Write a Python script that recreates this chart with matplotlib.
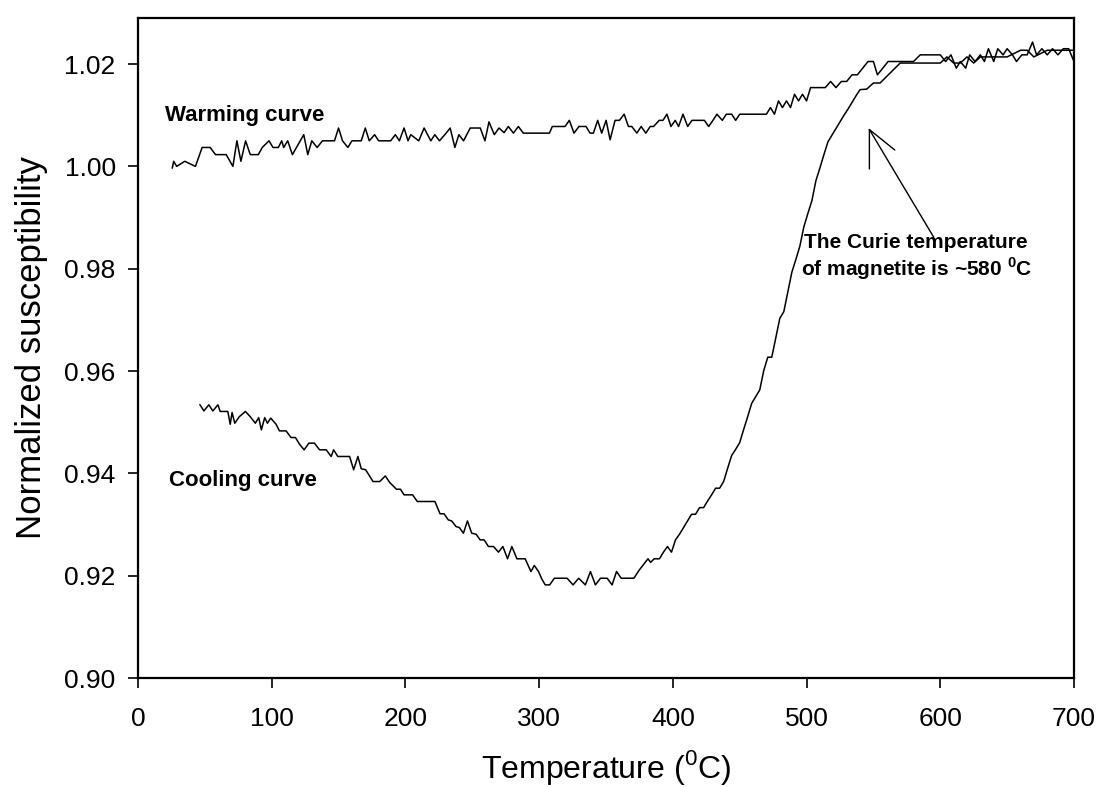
import matplotlib
matplotlib.use("Agg")
import matplotlib.pyplot as plt

plt.rcParams['font.family'] = ['Liberation Sans', 'DejaVu Sans']
plt.rcParams['mathtext.fontset'] = 'custom'
plt.rcParams['mathtext.rm'] = 'Liberation Sans'
plt.rcParams['mathtext.bf'] = 'Liberation Sans:bold'

# warming run (deg C, normalized susceptibility)
warm_t = [25.7, 26.7, 29, 35, 43, 48, 54, 58, 66, 71, 74, 77, 80.5, 84, 90, 93, 98,
          101, 105, 107.5, 109, 112, 115.5, 124, 127, 130, 134, 138, 147, 150, 153,
          157, 160, 167, 170, 173, 177, 180, 189, 192.5, 195.5, 199, 202, 204, 210,
          214, 219, 222, 225.5, 229.5, 233.5, 237, 240, 243.5, 248.5, 256, 259.5,
          262.5, 266.5, 270, 273.8, 277, 280.8, 284.5, 288.2, 307.7, 309.9, 319.4,
          322.6, 326.1, 329.8, 335.1, 338.1, 340.6, 343.8, 346.8, 350.1, 353.1,
          356.8, 360.1, 363.6, 366.8, 369.3, 373.1, 376.3, 379.8, 383.1, 385.6,
          389.8, 392.6, 395.6, 398.6, 401.8, 404.3, 407.6, 411.1, 414.3, 423.6,
          426.8, 430, 433, 437, 440, 444, 447, 450, 455, 460, 465, 470, 473, 476,
          479, 482, 485, 488, 491, 494, 497, 500, 503, 506, 510, 514, 518, 522, 526,
          530, 534, 538, 542, 546, 550, 553, 557, 561, 565, 570, 575, 580, 585, 590,
          595, 600, 604, 608, 612, 615, 619, 622, 626, 630, 633, 636, 640, 643, 647,
          650, 654, 657, 661, 665, 669, 672, 676, 680, 684, 688, 692, 696, 700]
warm_chi = [0.9997, 1.0010, 1.0000, 1.0010, 1.0000, 1.0037, 1.0037, 1.0023, 1.0023,
            1.0000, 1.0050, 1.0010, 1.0050, 1.0023, 1.0023, 1.0037, 1.0050, 1.0037,
            1.0037, 1.0050, 1.0037, 1.0050, 1.0023, 1.0062, 1.0023, 1.0050, 1.0037,
            1.0050, 1.0050, 1.0075, 1.0050, 1.0037, 1.0050, 1.0050, 1.0075, 1.0050,
            1.0062, 1.0050, 1.0050, 1.0062, 1.0050, 1.0075, 1.0050, 1.0062, 1.0050,
            1.0075, 1.0050, 1.0062, 1.0050, 1.0062, 1.0075, 1.0037, 1.0062, 1.0050,
            1.0075, 1.0075, 1.0050, 1.0087, 1.0062, 1.0075, 1.0066, 1.0078, 1.0065,
            1.0078, 1.0065, 1.0065, 1.0078, 1.0078, 1.0090, 1.0065, 1.0078, 1.0078,
            1.0065, 1.0065, 1.0090, 1.0065, 1.0090, 1.0052, 1.0090, 1.0090, 1.0102,
            1.0078, 1.0078, 1.0065, 1.0078, 1.0065, 1.0078, 1.0078, 1.0090, 1.0090,
            1.0102, 1.0078, 1.0090, 1.0078, 1.0102, 1.0078, 1.0090, 1.0090, 1.0078,
            1.0090, 1.0102, 1.0090, 1.0102, 1.0102, 1.0090, 1.0102, 1.0102, 1.0102,
            1.0102, 1.0102, 1.0115, 1.0102, 1.0128, 1.0115, 1.0128, 1.0115, 1.0141,
            1.0128, 1.0141, 1.0128, 1.0154, 1.0154, 1.0154, 1.0154, 1.0166, 1.0154,
            1.0166, 1.0166, 1.0179, 1.0179, 1.0192, 1.0205, 1.0205, 1.0179, 1.0192,
            1.0205, 1.0205, 1.0205, 1.0205, 1.0205, 1.0218, 1.0218, 1.0218, 1.0218,
            1.0205, 1.0218, 1.0192, 1.0205, 1.0192, 1.0218, 1.0205, 1.0218, 1.0205,
            1.0230, 1.0205, 1.0230, 1.0218, 1.0230, 1.0218, 1.0205, 1.0218, 1.0218,
            1.0243, 1.0218, 1.0230, 1.0218, 1.0230, 1.0218, 1.0230, 1.0230, 1.0205]

# cooling run
cool_t = [46.4, 49.3, 53, 56, 59.8, 61.5, 67.2, 69, 70.4, 72.4, 75.9, 80.4, 83.9, 87.8,
          90.3, 92.3, 94.8, 96.8, 99.3, 103.3, 105.8, 110.8, 114.5, 117.8, 120.8,
          124.3, 127.8, 132, 135.8, 140.8, 144.5, 146.3, 149.5, 158.3, 161.3, 164.5,
          167, 170.3, 175.8, 180.8, 185, 188.3, 193.3, 196.3, 199, 205.4, 208.9,
          222.1, 225.9, 228.9, 232.1, 234.6, 237.9, 240.4, 243.4, 246.4, 249.6,
          252.9, 255.9, 258.9, 262.1, 265.9, 269.6, 272.9, 276.4, 279.6, 283.4,
          289.6, 293.9, 296.4, 299.6, 302.1, 304.6, 307.9, 311.4, 320.9, 325.4,
          329.6, 334.6, 338.4, 342.1, 345.9, 350.9, 354.6, 357.9, 361.4, 370.9,
          374.6, 381.4, 383.4, 386, 390, 393, 396, 399, 402, 405, 408, 411, 414, 417,
          420, 423, 426, 429, 432, 435, 438, 441, 444, 447, 450, 453, 456, 459, 462,
          465, 468, 471, 474, 477, 480, 483, 486, 489, 492, 495, 498, 501, 504, 507,
          510, 513, 516, 519, 522, 525, 528, 531, 534, 537, 540, 545, 550, 555, 560,
          565, 570, 580, 590, 600, 605, 610, 615, 620, 625, 630, 640, 650, 660, 665,
          670, 680, 690, 700]
cool_chi = [0.9534, 0.9522, 0.9534, 0.9522, 0.9534, 0.9521, 0.9521, 0.9496, 0.9519,
            0.9498, 0.9511, 0.9521, 0.9511, 0.9498, 0.9509, 0.9485, 0.9509, 0.9498,
            0.9508, 0.9496, 0.9483, 0.9483, 0.9470, 0.9470, 0.9457, 0.9446, 0.9459,
            0.9459, 0.9446, 0.9446, 0.9433, 0.9446, 0.9433, 0.9433, 0.9407, 0.9433,
            0.9409, 0.9407, 0.9384, 0.9384, 0.9395, 0.9382, 0.9369, 0.9369, 0.9358,
            0.9358, 0.9345, 0.9345, 0.9321, 0.9321, 0.9309, 0.9307, 0.9296, 0.9294,
            0.9283, 0.9307, 0.9283, 0.9281, 0.9270, 0.9270, 0.9257, 0.9257, 0.9246,
            0.9257, 0.9233, 0.9257, 0.9233, 0.9233, 0.9208, 0.9220, 0.9208, 0.9193,
            0.9182, 0.9182, 0.9195, 0.9195, 0.9182, 0.9195, 0.9182, 0.9208, 0.9182,
            0.9195, 0.9195, 0.9182, 0.9208, 0.9195, 0.9195, 0.9210, 0.9233, 0.9226,
            0.9233, 0.9233, 0.9246, 0.9257, 0.9246, 0.9270, 0.9281, 0.9294, 0.9307,
            0.9320, 0.9320, 0.9333, 0.9333, 0.9346, 0.9358, 0.9371, 0.9371, 0.9384,
            0.9410, 0.9435, 0.9447, 0.9460, 0.9486, 0.9511, 0.9537, 0.9550, 0.9563,
            0.9601, 0.9627, 0.9627, 0.9665, 0.9703, 0.9716, 0.9754, 0.9793, 0.9818,
            0.9844, 0.9882, 0.9908, 0.9933, 0.9972, 0.9997, 1.0023, 1.0048, 1.0061,
            1.0074, 1.0087, 1.0100, 1.0112, 1.0125, 1.0138, 1.0150, 1.0151, 1.0163,
            1.0163, 1.0176, 1.0189, 1.0202, 1.0202, 1.0202, 1.0202, 1.0214, 1.0202,
            1.0202, 1.0214, 1.0202, 1.0214, 1.0214, 1.0214, 1.0227, 1.0227, 1.0214,
            1.0227, 1.0227, 1.0227]

# pointer to the Curie point: tip, tail and the two short head strokes
tip = (547, 1.0072)
tail = (595, 0.9862)
head_ends = [(547, 0.9995), (566, 1.0032)]

fig = plt.figure(figsize=(11.08, 7.87), dpi=100)
ax = fig.add_axes([0.1245, 0.1385, 0.8448, 0.8386])

ax.plot(warm_t, warm_chi, color='black', lw=1.1)
ax.plot(cool_t, cool_chi, color='black', lw=1.1)

ax.set_xlim(0, 700)
ax.set_ylim(0.90, 1.029)
ax.set_xticks(range(0, 701, 100))
ax.set_yticks([0.90, 0.92, 0.94, 0.96, 0.98, 1.00, 1.02])
ax.set_yticklabels(['0.90', '0.92', '0.94', '0.96', '0.98', '1.00', '1.02'])
ax.tick_params(direction='out', length=7, width=1.2, labelsize=19, pad=9)
ax.tick_params(axis='x', pad=14)
for s in ax.spines.values():
    s.set_linewidth(1.6)

ax.set_xlabel(r'Temperature ($^{0}$C)', fontsize=23, labelpad=12)
ax.set_ylabel('Normalized susceptibility', fontsize=25, labelpad=12)

ax.text(20, 1.0100, 'Warming curve', fontsize=16, fontweight='bold', va='center')
ax.text(23, 0.9386, 'Cooling curve', fontsize=16, fontweight='bold', va='center')
ax.text(582, 0.9822, 'The Curie temperature\n' + r'of magnetite is ~580 $^{\mathbf{0}}$C',
        fontsize=15, fontweight='bold', ha='center', va='center', linespacing=1.15)

for end in [tail] + head_ends:
    ax.annotate('', xy=tip, xytext=end,
                arrowprops=dict(arrowstyle='-', color='black', lw=1.0,
                                shrinkA=0, shrinkB=0))

fig.savefig('out.png', dpi=100)
